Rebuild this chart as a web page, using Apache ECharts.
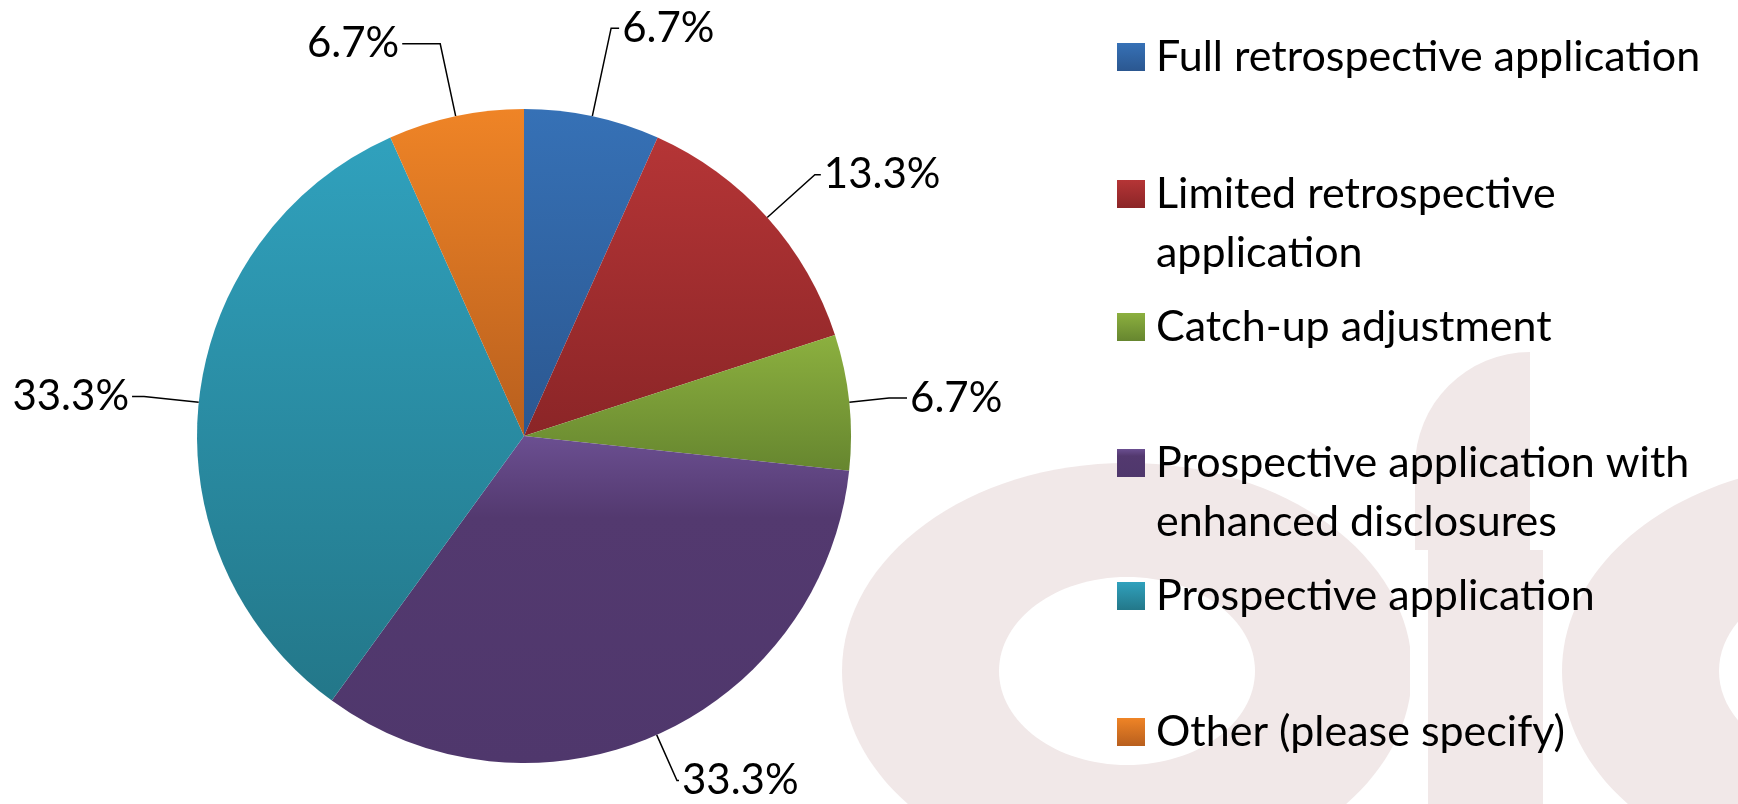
<!DOCTYPE html>
<html>
<head>
<meta charset="utf-8">
<title>Transition approach</title>
<script src="https://cdn.jsdelivr.net/npm/echarts@6/dist/echarts.min.js"></script>
<style>
  html, body { margin: 0; padding: 0; background: #fff; }
  #chart { width: 1738px; height: 804px; }
</style>
</head>
<body>
<div id="chart"></div>
<script>
// data
const categories = [
  'Full retrospective application',
  'Limited retrospective application',
  'Catch-up adjustment',
  'Prospective application with enhanced disclosures',
  'Prospective application',
  'Other (please specify)'
];
const legendLabels = [
  'Full retrospective application',
  'Limited retrospective\napplication',
  'Catch-up adjustment',
  'Prospective application with\nenhanced disclosures',
  'Prospective application',
  'Other (please specify)'
];
const shares = [6.7, 13.3, 6.7, 33.3, 33.3, 6.7];

// colours: top / bottom of each slice's gradient
const topColors = ['#3671b6', '#b53536', '#8cb03f', '#6b4f91', '#30a1bd', '#ef8426'];
const bottomColors = ['#2b5790', '#8b2527', '#66862f', '#4f376c', '#237789', '#b85f1e'];

// leader line lengths per slice (first segment, horizontal segment)
const lineLen = [90, 64, 40, 50, 55, 74];
const lineLen2 = [8, 6, 18, 2, 12, 38];

const FONT = 'Lato';
const LEGEND_SIZE = 43;
const LABEL_SIZE = 42;
const LINE_H = 59;
const legendCenters = [57, 194, 327, 463, 596, 732];
const WATERMARK = '#f1e8e8';

const chart = echarts.init(document.getElementById('chart'));

const gradient = (i) => new echarts.graphic.LinearGradient(0, 0, 0, 1, i === 3
  ? [{ offset: 0, color: topColors[i] }, { offset: 0.25, color: '#53396f' }, { offset: 1, color: bottomColors[i] }]
  : [{ offset: 0, color: topColors[i] }, { offset: 1, color: bottomColors[i] }]);

// one legend per entry so the uneven spacing of the original can be kept
const legends = categories.map((name, i) => {
  const twoLine = legendLabels[i].indexOf('\n') >= 0;
  return {
    data: [name],
    orient: 'vertical',
    left: 1117,
    top: twoLine ? legendCenters[i] - 1.5 * LINE_H : legendCenters[i] - LINE_H / 2,
    padding: 0,
    icon: 'rect',
    itemWidth: 28,
    itemHeight: 28,
    selectedMode: false,
    // an empty first line keeps the icon level with the first text line
    formatter: () => (twoLine ? '\n' : '') + legendLabels[i],
    textStyle: {
      fontFamily: FONT,
      fontSize: LEGEND_SIZE,
      lineHeight: LINE_H,
      color: '#000',
      padding: [0, 0, 0, 6]
    }
  };
});

const option = {
  backgroundColor: '#fff',
  animation: false,
  graphic: [
    // faint watermark letters behind the chart
    { type: 'ellipse', z: -10, shape: { cx: 1127, cy: 671, rx: 285, ry: 208 }, style: { fill: WATERMARK } },
    { type: 'ellipse', z: -9, shape: { cx: 1127, cy: 671, rx: 128, ry: 94 }, style: { fill: '#fff' } },
    { type: 'rect', z: -10, shape: { x: 1415, y: 352, width: 115, height: 210, r: [115, 0, 0, 0] }, style: { fill: WATERMARK } },
    { type: 'rect', z: -9, shape: { x: 1410, y: 550, width: 18, height: 260 }, style: { fill: '#fff' } },
    { type: 'rect', z: -10, shape: { x: 1428, y: 550, width: 115, height: 260 }, style: { fill: WATERMARK } },
    { type: 'ellipse', z: -10, shape: { cx: 1847, cy: 671, rx: 285, ry: 208 }, style: { fill: WATERMARK } },
    { type: 'ellipse', z: -9, shape: { cx: 1847, cy: 671, rx: 128, ry: 94 }, style: { fill: '#fff' } }
  ],
  legend: legends,
  series: [
    {
      type: 'pie',
      center: [524, 436],
      radius: 327,
      startAngle: 90,
      clockwise: true,
      avoidLabelOverlap: false,
      itemStyle: { borderWidth: 0 },
      label: {
        show: true,
        position: 'outside',
        formatter: (p) => p.value.toFixed(1) + '%',
        fontFamily: FONT,
        fontSize: LABEL_SIZE,
        color: '#000',
        distanceToLabelLine: 3
      },
      labelLine: {
        show: true,
        lineStyle: { color: '#000', width: 1.5 }
      },
      emphasis: { disabled: true },
      data: categories.map((name, i) => ({
        name: name,
        value: shares[i],
        itemStyle: { color: gradient(i) },
        labelLine: { length: lineLen[i], length2: lineLen2[i] }
      }))
    }
  ]
};

chart.setOption(option);
</script>
</body>
</html>
